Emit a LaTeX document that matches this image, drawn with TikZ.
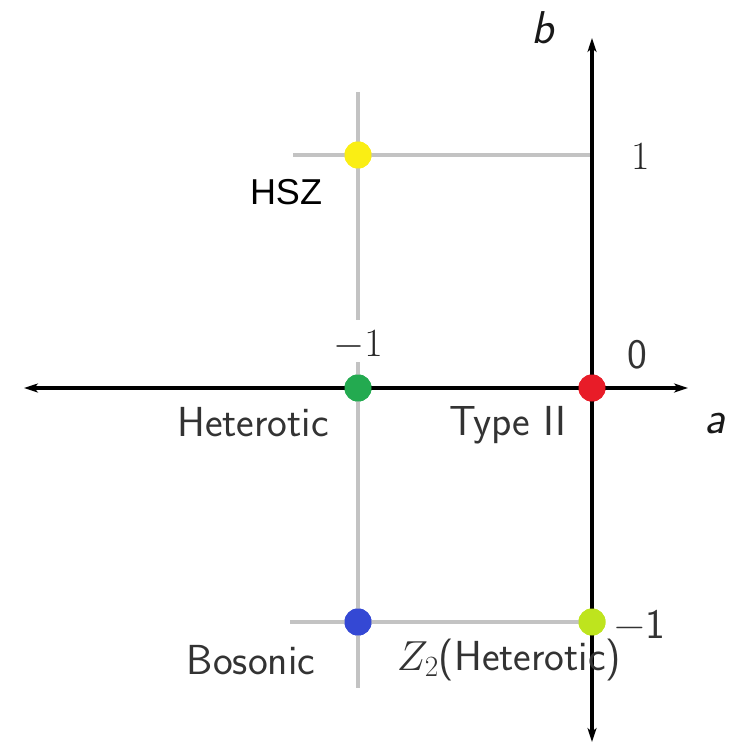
\RequirePackage{fix-cm}
\documentclass[tikz,border=0pt]{standalone}
\usepackage{fontspec}
\newfontfamily\hszfont{Liberation Sans}
\usetikzlibrary{arrows.meta}
\definecolor{gline}{RGB}{195,195,195}
\definecolor{cyel}{RGB}{250,238,20}
\definecolor{cgrn}{RGB}{35,170,80}
\definecolor{cred}{RGB}{232,28,40}
\definecolor{cblu}{RGB}{52,72,212}
\definecolor{clim}{RGB}{190,228,30}
\begin{document}
\begin{tikzpicture}[x=1pt,y=-1pt,
  axis/.style={line width=3.6pt,black,-{Stealth[length=14pt,width=9pt,inset=4pt]}},
  guide/.style={line width=3.6pt,gline},
  dot/.style={circle,inner sep=0pt,minimum size=27pt,fill=#1},
  lab/.style={font=\fontsize{42}{44}\selectfont\sffamily,text=black!80},
  axlab/.style={font=\fontsize{46}{48}\selectfont\sffamily\itshape,text=black!90},
  num/.style={font=\fontsize{40}{42}\selectfont,text=black!85}]
\useasboundingbox (0,0) rectangle (730,743);
% axis end points
\coordinate (xl) at (24,388);
\coordinate (xr) at (688,388);
\coordinate (yt) at (592,38);
\coordinate (yb) at (592,742);
\coordinate (g1t) at (358,92);
\coordinate (g1m) at (358,320);
\coordinate (g2t) at (358,362);
\coordinate (g2b) at (358,688);
\coordinate (h1l) at (293,155);
\coordinate (h1r) at (592,155);
\coordinate (h2l) at (290,622);
% dots
\node[dot=cyel] (hsz) at (358,155) {};
\node[dot=cgrn] (het) at (358,388) {};
\node[dot=cred] (t2) at (592,388) {};
\node[dot=cblu] (bos) at (358,622) {};
\node[dot=clim] (z2) at (592,622) {};
% guide lines
\draw[guide] (g1t) -- (g1m);
\draw[guide] (g2t) -- (g2b);
\draw[guide] (h1l) -- (h1r);
\draw[guide] (h2l) -- (z2.center);
% axes
\draw[axis] (t2.center) -- (xl);
\draw[axis] (t2.center) -- (xr);
\draw[axis] (t2.center) -- (yt);
\draw[axis] (t2.center) -- (yb);
% dots redrawn on top
\node[dot=cyel] at (hsz) {};
\node[dot=cgrn] at (het) {};
\node[dot=cred] at (t2) {};
\node[dot=cblu] at (bos) {};
\node[dot=clim] at (z2) {};
% labels
\node[axlab] (lb) at (543,28) {b};
\node[axlab] (la) at (715,424) {a};
\node[num] (l1) at (641,156) {1};
\node[lab] (l0) at (637,355) {0};
\node[num] (lm1) at (358,345) {$-1$};
\node[lab] (lm1r) at (640,624) {\char"2212 1};
\node[font=\fontsize{36}{40}\selectfont\hszfont,text=black] (lhsz) at (286,192) {HSZ};
\node[lab] (lhet) at (253,422) {Heterotic};
\node[lab] (lt2) at (508,425) {Type II};
\node[lab] (lbos) at (251,660) {Bosonic};
\node[lab] (lz2) at (509,660) {$Z_2$(Heterotic)};
\end{tikzpicture}
\end{document}
